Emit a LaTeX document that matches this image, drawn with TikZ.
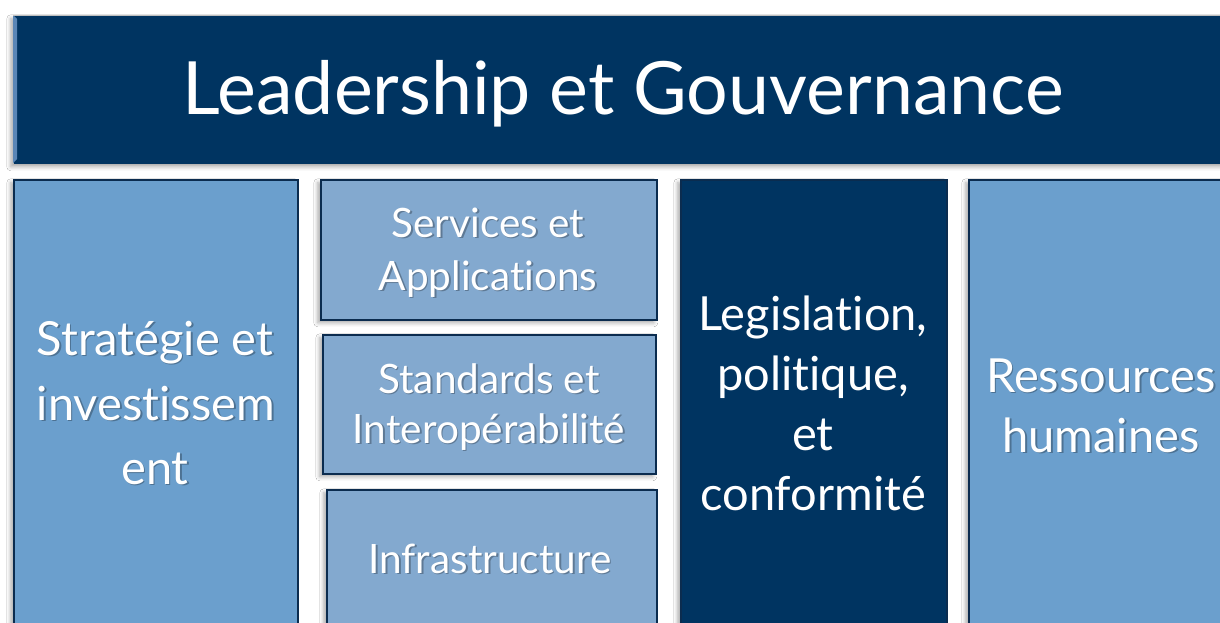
\documentclass[tikz,border=0pt]{standalone}
\usepackage{fontspec}
\setmainfont{Lato}[Ligatures={NoCommon}]
\usetikzlibrary{shadows.blur}

\definecolor{navy}{HTML}{003461}
\definecolor{edgeblue}{HTML}{0B2C4F}
\definecolor{colblue}{HTML}{6B9FCD}
\definecolor{midblue}{HTML}{83A9CF}
\definecolor{bevel}{HTML}{5A86B6}

\tikzset{
  panel/.style={draw=edgeblue, line width=1.6pt, anchor=north west, inner sep=0pt,
    blur shadow={shadow xshift=-3pt, shadow yshift=-3pt, shadow blur radius=4pt, shadow opacity=35}},
  txt/.style={text=white, align=center, anchor=base, inner sep=0pt},
  tshadow/.style={txt, text=black, opacity=0.28, xshift=1.6pt, yshift=-1.6pt},
  bigf/.style={font=\fontsize{47}{64}\selectfont},
  midf/.style={font=\fontsize{40.5}{52}\selectfont},
}

\begin{document}
\begin{tikzpicture}[x=1pt, y=-1pt]
\useasboundingbox (0,0) rectangle (1220,623);
\clip (0,0) rectangle (1220,623);
\fill[white] (0,0) rectangle (1220,623);

% top banner
\node[panel, draw=none, fill=navy, minimum width=1230pt, minimum height=148pt] (lead) at (13,15) {};
\fill[bevel] (13,15) -- (17,19) -- (17,159) -- (13,163) -- cycle;
\draw[gray!50, line width=1pt] (13,15.5) -- (1220,15.5);

% columns
\node[panel, fill=colblue, minimum width=284pt, minimum height=470pt] (strat) at (13,179) {};
\node[panel, fill=midblue, minimum width=336pt, minimum height=140pt] (serv) at (320,179) {};
\node[panel, fill=midblue, minimum width=333pt, minimum height=139pt] (stand) at (322,334) {};
\node[panel, fill=midblue, minimum width=330pt, minimum height=160pt] (infra) at (326,489) {};
\node[panel, fill=navy, minimum width=266pt, minimum height=470pt] (legis) at (680,179) {};
\node[panel, fill=colblue, minimum width=280pt, minimum height=470pt] (rh) at (968,179) {};

% title
\node[txt, font=\fontsize{73.5}{90}\selectfont] (tlead) at (623,115) {Leadership et Gouvernance};

% left column
\node[tshadow, bigf] (t1s) at (155,355) {Stratégie et};
\node[txt, bigf] (t1) at (155,355) {Stratégie et};
\node[tshadow, bigf] (t2s) at (156,420) {investissem};
\node[txt, bigf] (t2) at (156,420) {investissem};
\node[tshadow, bigf] (t3s) at (155,484) {ent};
\node[txt, bigf] (t3) at (155,484) {ent};

% stacked middle boxes
\node[tshadow, midf] (t4s) at (488,237) {Services et};
\node[txt, midf] (t4) at (488,237) {Services et};
\node[tshadow, midf] (t5s) at (488,290) {Applications};
\node[txt, midf] (t5) at (488,290) {Applications};
\node[tshadow, midf] (t6s) at (489,393) {Standards et};
\node[txt, midf] (t6) at (489,393) {Standards et};
\node[tshadow, midf] (t7s) at (489,443) {Interopérabilité};
\node[txt, midf] (t7) at (489,443) {Interopérabilité};
\node[tshadow, midf] (t8s) at (490,573) {Infrastructure};
\node[txt, midf] (t8) at (490,573) {Infrastructure};

% dark column
\node[txt, bigf] (l1) at (813,330) {Legislation,};
\node[txt, bigf] (l2) at (813,390) {politique,};
\node[txt, bigf] (l3) at (813,450) {et};
\node[txt, bigf] (l4) at (813,510) {conformité};

% right column
\node[tshadow, bigf] (r1s) at (1101,392) {Ressources};
\node[txt, bigf] (r1) at (1101,392) {Ressources};
\node[tshadow, bigf] (r2s) at (1101,452) {humaines};
\node[txt, bigf] (r2) at (1101,452) {humaines};
\end{tikzpicture}
\end{document}
